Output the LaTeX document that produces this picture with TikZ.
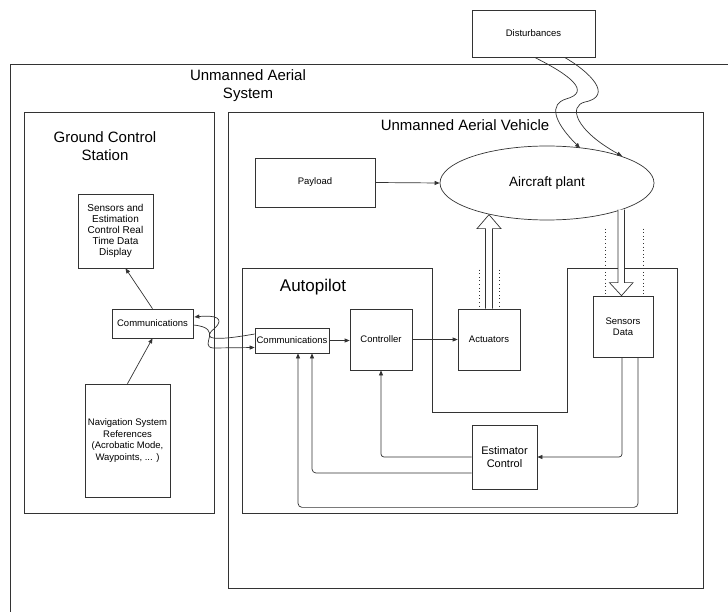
\documentclass[tikz,border=0pt]{standalone}
\usepackage{fontspec}
\setmainfont{Liberation Sans}
\usetikzlibrary{arrows.meta,shapes.geometric,calc}
\begin{document}
\begin{tikzpicture}[x=1pt,y=-1pt,
  ln/.style={draw=black!80,line width=0.7pt},
  box/.style={ln,rectangle,inner sep=1pt,align=center,font=\fontsize{9.5}{11.4}\selectfont},
  arr/.style={ln,-{Triangle[length=5pt,width=4pt]}},
  big/.style={font=\fontsize{15}{18}\selectfont,align=center,inner sep=0pt},
  dots/.style={draw=black!80,line width=1pt,dash pattern=on 1pt off 2.6pt},
  hollow/.style={ln,fill=white,line join=miter},
]
\useasboundingbox (0,0) rectangle (728,612);

% containers
\draw[ln] (728,64) -- (10,64) -- (10,612);
\draw[ln] (24,112) rectangle (214,513);
\draw[ln] (228,112) rectangle (703,588);
\draw[ln] (242,268) -- (432,268) -- (432,412) -- (567,412) -- (567,268) -- (677,268) -- (677,513) -- (242,513) -- cycle;

% labels
\node[big] (uaslbl) at (248,86) {Unmanned Aerial\\System};
\node[big] (gcslbl) at (105,146) {Ground Control\\Station};
\node[big] (uavlbl) at (465,125) {Unmanned Aerial Vehicle};
\node[font=\fontsize{17}{20}\selectfont,inner sep=0pt] (aplbl) at (313,287) {Autopilot};

% nodes
\node[box,minimum width=123pt,minimum height=47pt] (dist) at (533.5,33.5) {Disturbances};
\node[box,minimum width=75pt,minimum height=74pt,font=\fontsize{10}{11.2}\selectfont] (sdisp) at (115.5,231) {Sensors and\\Estimation\\Control Real\\Time Data\\Display};
\node[box,minimum width=81pt,minimum height=29pt] (lcomm) at (152.5,323.5) {Communications};
\node[box,minimum width=85pt,minimum height=113pt] (nav) at (127.5,440.5) {Navigation System\\References\\(Acrobatic Mode,\\Waypoints, ... )};
\node[box,minimum width=120pt,minimum height=49pt] (payload) at (315,182.5) {Payload};
\node[ln,ellipse,minimum width=214pt,minimum height=74pt,inner sep=0pt,font=\fontsize{13.5}{16}\selectfont] (plant) at (547,183) {Aircraft plant};
\node[box,minimum width=74pt,minimum height=25pt] (acomm) at (292,340.5) {Communications};
\node[box,minimum width=62pt,minimum height=61pt] (ctrl) at (381,339.5) {Controller};
\node[box,minimum width=62pt,minimum height=61pt] (act) at (489,339.5) {Actuators};
\node[box,minimum width=60pt,minimum height=61pt] (sens) at (623,326.5) {Sensors\\Data};
\node[box,minimum width=65pt,minimum height=64pt,font=\fontsize{11}{12.5}\selectfont] (est) at (504.5,457) {Estimator\\Control};

% GCS connectors
\draw[arr] (nav.north) -- (lcomm.south);
\draw[arr] (lcomm.north) -- ($(sdisp.south)+(10,0)$);

% communication link
\draw[arr] ($(acomm.west)+(0,-6.5)$) .. controls (215,341) and (200,340) .. (215,328) .. controls (225,318) and (215,315) .. ($(lcomm.east)+(1,-6.5)$);
\draw[arr] ($(lcomm.east)+(0,1.5)$) .. controls (225,328) and (198,346) .. (213,348) -- ($(acomm.west)+(0,7)$);

% autopilot connectors
\draw[arr] (acomm.east) -- (acomm.east -| ctrl.west);
\draw[arr] (ctrl.east) -- (act.west);
\draw[arr,rounded corners=3pt] ($(sens.south)+(-1,0)$) |- (est.east);
\draw[arr,rounded corners=3pt] (est.west) -| (ctrl.south);
\draw[arr,rounded corners=4pt] ($(est.west)+(0,16)$) -| ($(acomm.south)+(20,0)$);
\draw[arr,rounded corners=4pt] ($(sens.south)+(15,0)$) -- ++(0,150) -| ($(acomm.south)+(6,0)$);
\draw[arr] (payload.east) -- (plant.west);

% hollow arrows
\draw[hollow] ($(act.north)+(-3.5,0)$) -- ++(0,-80) -- ++(-8.5,0) -- ($(act.north)+(0,-94)$) -- ($(act.north)+(12,-80)$) -- ++(-8.5,0) -- ($(act.north)+(3.5,0)$);
\draw[hollow] ($(sens.north)+(-5,-86)$) -- ++(0,73) -- ++(-8.5,0) -- ($(sens.north)+(-1.5,0)$) -- ($(sens.north)+(10,-13)$) -- ++(-8.5,0) -- ($(sens.north)+(1.5,-86)$);

% dotted lines
\draw[dots] ($(act.north)+(-10,-39)$) -- ($(act.north)+(-10,0)$);
\draw[dots] ($(act.north)+(10,-39)$) -- ($(act.north)+(10,0)$);
\draw[dots] ($(sens.north)+(-18,-67)$) -- ($(sens.north)+(-18,0)$);
\draw[dots] ($(sens.north)+(20,-67)$) -- ($(sens.north)+(20,0)$);

% disturbances
\coordinate (d1) at (580,148);
\coordinate (d2) at (622,156);
\draw[arr] ($(dist.south)+(1,0)$) .. controls (570,75) and (592,92) .. (566,99) .. controls (550,104) and (552,120) .. (d1);
\draw[arr] ($(dist.south)+(31,0)$) .. controls (590,72) and (614,96) .. (585,102) .. controls (568,106) and (575,130) .. (d2);
\end{tikzpicture}
\end{document}
